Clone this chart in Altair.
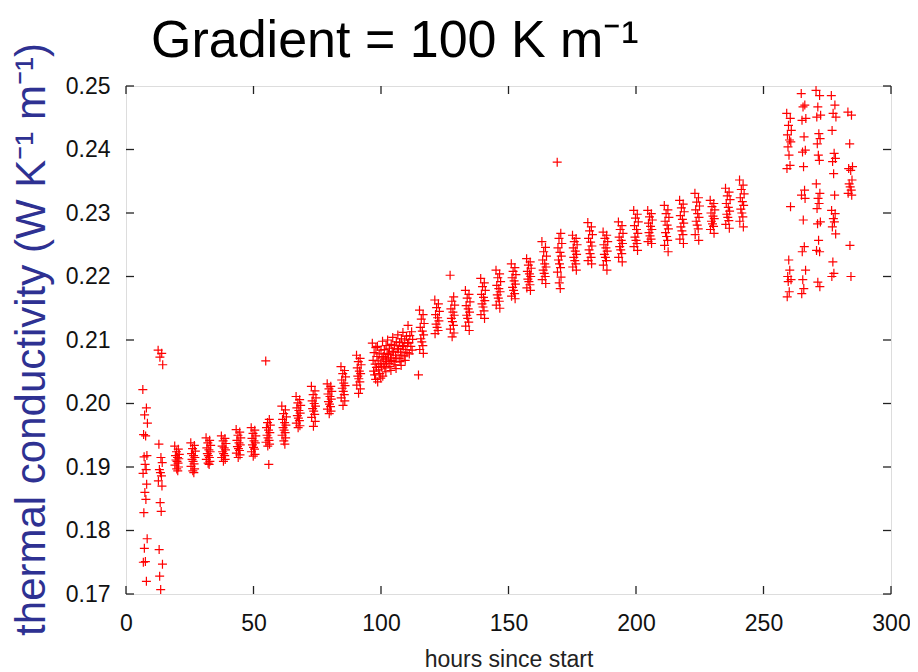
import altair as alt
import pandas as pd

# ---- data (hours since start, thermal conductivity) ----
# Each measurement session: (centre hour, list of conductivity values)
SESSIONS = [
    (7.5, [0.2022, 0.1993, 0.1982, 0.1969, 0.1951, 0.1949, 0.1918, 0.1916, 0.1904, 0.1896,
           0.1890, 0.1873, 0.1860, 0.1849, 0.1828, 0.1787, 0.1772, 0.1751, 0.1750, 0.1720]),
    (13.5, [0.2084, 0.2079, 0.2073, 0.2061, 0.1936, 0.1915, 0.1907, 0.1896, 0.1891, 0.1886,
            0.1878, 0.1870, 0.1844, 0.1830, 0.1770, 0.1747, 0.1728, 0.1707]),
    (20.0, [0.1933, 0.1928, 0.1924, 0.1920, 0.1918, 0.1915, 0.1913, 0.1911, 0.1909, 0.1906, 0.1903, 0.1900, 0.1897, 0.1894]),
    (26.3, [0.1938, 0.1934, 0.1929, 0.1925, 0.1921, 0.1918, 0.1915, 0.1912, 0.1909, 0.1905, 0.1901, 0.1897, 0.1894, 0.1891]),
    (32.3, [0.1946, 0.1942, 0.1938, 0.1934, 0.1930, 0.1927, 0.1924, 0.1921, 0.1918, 0.1915, 0.1912, 0.1909, 0.1906, 0.1904]),
    (38.3, [0.1949, 0.1945, 0.1941, 0.1937, 0.1933, 0.1930, 0.1927, 0.1924, 0.1921, 0.1918, 0.1915, 0.1912, 0.1909]),
    (44.1, [0.1959, 0.1955, 0.1950, 0.1946, 0.1942, 0.1938, 0.1935, 0.1932, 0.1929, 0.1926, 0.1922, 0.1919, 0.1915]),
    (50.0, [0.1962, 0.1958, 0.1953, 0.1949, 0.1945, 0.1941, 0.1938, 0.1935, 0.1931, 0.1928, 0.1924, 0.1920, 0.1917]),
    (55.7, [0.2067, 0.1975, 0.1970, 0.1966, 0.1962, 0.1958, 0.1954, 0.1950, 0.1946, 0.1942, 0.1939, 0.1936, 0.1933, 0.1904]),
    (62.0, [0.1996, 0.1990, 0.1984, 0.1979, 0.1975, 0.1970, 0.1966, 0.1962, 0.1958, 0.1954, 0.1950, 0.1946, 0.1941, 0.1936]),
    (67.6, [0.2011, 0.2006, 0.2001, 0.1997, 0.1993, 0.1989, 0.1985, 0.1981, 0.1977, 0.1973, 0.1969, 0.1965, 0.1962]),
    (73.6, [0.2027, 0.2020, 0.2014, 0.2009, 0.2004, 0.2000, 0.1996, 0.1992, 0.1988, 0.1983, 0.1978, 0.1972, 0.1964]),
    (79.8, [0.2031, 0.2027, 0.2023, 0.2019, 0.2015, 0.2011, 0.2007, 0.2003, 0.1999, 0.1995, 0.1991, 0.1988, 0.1984]),
    (85.2, [0.2058, 0.2052, 0.2047, 0.2042, 0.2037, 0.2032, 0.2028, 0.2024, 0.2019, 0.2014, 0.2009, 0.2004, 0.1997]),
    (91.3, [0.2076, 0.2071, 0.2066, 0.2061, 0.2056, 0.2051, 0.2047, 0.2043, 0.2039, 0.2034, 0.2029, 0.2023, 0.2016]),
    (97.5, [0.2095, 0.2088, 0.2080, 0.2074, 0.2068, 0.2062, 0.2057, 0.2051, 0.2045, 0.2038]),
    (99.5, [0.2090, 0.2084, 0.2078, 0.2072, 0.2067, 0.2063, 0.2058, 0.2053, 0.2047, 0.2040, 0.2034]),
    (101.5, [0.2098, 0.2091, 0.2085, 0.2079, 0.2074, 0.2070, 0.2066, 0.2061, 0.2056, 0.2050, 0.2043]),
    (103.5, [0.2100, 0.2093, 0.2087, 0.2082, 0.2077, 0.2072, 0.2068, 0.2063, 0.2058, 0.2052]),
    (105.5, [0.2104, 0.2097, 0.2091, 0.2086, 0.2081, 0.2076, 0.2071, 0.2066, 0.2061, 0.2055]),
    (107.5, [0.2108, 0.2102, 0.2096, 0.2091, 0.2086, 0.2081, 0.2076, 0.2071, 0.2066, 0.2060]),
    (109.5, [0.2112, 0.2106, 0.2100, 0.2095, 0.2090, 0.2085, 0.2080, 0.2075, 0.2068]),
    (111.5, [0.2123, 0.2113, 0.2107, 0.2101, 0.2096, 0.2090, 0.2084, 0.2078]),
    (116.0, [0.2147, 0.2140, 0.2133, 0.2126, 0.2120, 0.2114, 0.2108, 0.2102, 0.2097, 0.2091, 0.2085, 0.2079]),
    (122.0, [0.2163, 0.2157, 0.2151, 0.2145, 0.2140, 0.2135, 0.2130, 0.2125, 0.2120, 0.2115, 0.2110]),
    (128.0, [0.2202, 0.2168, 0.2161, 0.2155, 0.2149, 0.2144, 0.2139, 0.2134, 0.2129, 0.2123, 0.2117, 0.2111, 0.2105]),
    (134.0, [0.2178, 0.2172, 0.2166, 0.2160, 0.2154, 0.2149, 0.2144, 0.2139, 0.2134, 0.2128, 0.2122, 0.2115]),
    (140.0, [0.2197, 0.2190, 0.2184, 0.2178, 0.2172, 0.2167, 0.2162, 0.2157, 0.2152, 0.2146, 0.2140, 0.2134]),
    (146.0, [0.2210, 0.2204, 0.2198, 0.2192, 0.2186, 0.2181, 0.2176, 0.2171, 0.2166, 0.2161, 0.2155, 0.2150]),
    (152.0, [0.2220, 0.2214, 0.2208, 0.2203, 0.2198, 0.2193, 0.2188, 0.2183, 0.2178, 0.2173, 0.2169, 0.2165]),
    (158.0, [0.2228, 0.2223, 0.2218, 0.2213, 0.2208, 0.2204, 0.2200, 0.2196, 0.2192, 0.2187, 0.2182, 0.2178]),
    (164.0, [0.2255, 0.2246, 0.2239, 0.2232, 0.2226, 0.2220, 0.2215, 0.2210, 0.2205, 0.2200, 0.2195, 0.2189]),
    (170.0, [0.2380, 0.2268, 0.2260, 0.2252, 0.2245, 0.2238, 0.2232, 0.2226, 0.2220, 0.2214, 0.2207, 0.2199, 0.2190, 0.2181]),
    (176.0, [0.2265, 0.2260, 0.2255, 0.2250, 0.2245, 0.2240, 0.2235, 0.2230, 0.2225, 0.2220, 0.2215, 0.2210]),
    (182.0, [0.2285, 0.2278, 0.2272, 0.2266, 0.2260, 0.2254, 0.2248, 0.2242, 0.2236, 0.2230, 0.2225, 0.2220]),
    (188.0, [0.2270, 0.2265, 0.2260, 0.2255, 0.2250, 0.2245, 0.2240, 0.2235, 0.2230, 0.2225, 0.2218, 0.2210]),
    (194.0, [0.2286, 0.2280, 0.2274, 0.2268, 0.2262, 0.2257, 0.2252, 0.2247, 0.2242, 0.2236, 0.2230, 0.2223]),
    (200.0, [0.2304, 0.2298, 0.2292, 0.2286, 0.2280, 0.2274, 0.2268, 0.2262, 0.2257, 0.2252, 0.2247, 0.2241]),
    (205.5, [0.2304, 0.2299, 0.2294, 0.2289, 0.2284, 0.2279, 0.2274, 0.2269, 0.2264, 0.2259, 0.2255, 0.2252]),
    (212.0, [0.2312, 0.2305, 0.2299, 0.2293, 0.2287, 0.2281, 0.2275, 0.2269, 0.2263, 0.2257, 0.2249, 0.2239]),
    (218.0, [0.2320, 0.2314, 0.2308, 0.2302, 0.2296, 0.2290, 0.2284, 0.2278, 0.2272, 0.2266, 0.2259, 0.2252]),
    (224.0, [0.2331, 0.2324, 0.2317, 0.2311, 0.2305, 0.2299, 0.2293, 0.2287, 0.2281, 0.2275, 0.2266, 0.2257]),
    (230.0, [0.2320, 0.2315, 0.2310, 0.2305, 0.2300, 0.2295, 0.2291, 0.2287, 0.2283, 0.2279, 0.2274, 0.2268]),
    (236.0, [0.2339, 0.2333, 0.2327, 0.2321, 0.2315, 0.2309, 0.2303, 0.2298, 0.2293, 0.2288, 0.2282, 0.2276]),
    (241.5, [0.2352, 0.2344, 0.2337, 0.2330, 0.2324, 0.2318, 0.2312, 0.2306, 0.2300, 0.2294, 0.2287, 0.2278]),
    (260.0, [0.2457, 0.2449, 0.2438, 0.2430, 0.2423, 0.2415, 0.2412, 0.2404, 0.2391, 0.2375, 0.2370, 0.2310,
             0.2226, 0.2210, 0.2200, 0.2195, 0.2192, 0.2176, 0.2168]),
    (265.7, [0.2488, 0.2470, 0.2467, 0.2449, 0.2446, 0.2420, 0.2399, 0.2396, 0.2373, 0.2336, 0.2328, 0.2323,
             0.2289, 0.2247, 0.2239, 0.2210, 0.2195, 0.2181, 0.2173]),
    (271.5, [0.2493, 0.2485, 0.2467, 0.2454, 0.2451, 0.2425, 0.2417, 0.2409, 0.2391, 0.2383, 0.2346, 0.2331,
             0.2323, 0.2315, 0.2307, 0.2286, 0.2283, 0.2257, 0.2241, 0.2239, 0.2191, 0.2184]),
    (277.5, [0.2485, 0.2470, 0.2457, 0.2451, 0.2430, 0.2394, 0.2386, 0.2381, 0.2362, 0.2328, 0.2304, 0.2299,
             0.2291, 0.2286, 0.2278, 0.2267, 0.2223, 0.2205, 0.2200]),
    (284.0, [0.2459, 0.2454, 0.2409, 0.2373, 0.2370, 0.2367, 0.2352, 0.2346, 0.2341, 0.2336, 0.2331, 0.2328,
             0.2249, 0.2200]),
]
# time of each reading relative to the session centre (hours)
OFFSETS = [-0.9, 0.5, -0.2, 0.9, -0.6, 0.2, 0.7, -0.4, 0.0, 0.4,
           -0.8, 0.6, -0.1, 0.3, -0.5, 0.8, -0.3, 0.1, -0.7, 0.5, -0.2, 0.6]
EXTRA_HOURS = [114.7]
EXTRA_VALUES = [0.2045]

X_TICKS = [0, 50, 100, 150, 200, 250, 300]
Y_TICKS = [0.17, 0.18, 0.19, 0.20, 0.21, 0.22, 0.23, 0.24, 0.25]
TITLE = "Gradient = 100 K m\u207b\u00b9"

rows = []
for centre, vals in SESSIONS:
    for i, v in enumerate(vals):
        rows.append({"hours": centre + OFFSETS[i % len(OFFSETS)], "k": v})
for h, v in zip(EXTRA_HOURS, EXTRA_VALUES):
    rows.append({"hours": h, "k": v})
df = pd.DataFrame(rows)

W, H = 765, 508
FONT = "Liberation Sans"

xscale = alt.Scale(domain=[0, 300], nice=False, zero=False)
yscale = alt.Scale(domain=[0.17, 0.25], nice=False, zero=False)

x_axis = alt.Axis(values=X_TICKS, title="hours since start", format="d",
                  labelFontSize=23, labelFont=FONT, labelColor="#111", labelFlush=False,
                  titleFontSize=23, titleFont=FONT, titleFontWeight="normal",
                  titleColor="#222", titlePadding=13,
                  ticks=False, tickSize=0, domain=False, grid=False,
                  labelPadding=18)
y_axis = alt.Axis(values=Y_TICKS, format=".2f",
                  title="thermal conductivity (W K\u207b\u00b9 m\u207b\u00b9)",
                  labelFontSize=23, labelFont=FONT, labelColor="#111", labelFlush=False,
                  titleFontSize=42, titleFont=FONT, titleFontWeight="normal",
                  titleColor="#2e3192", titleX=-82, titleY=253,
                  titleAngle=270, titleAlign="center", titleBaseline="alphabetic",
                  ticks=False, tickSize=0, domain=False, grid=False,
                  labelPadding=16)

points = alt.Chart(df).mark_point(
    shape="M-1,0L1,0M0,-1L0,1", size=81, filled=False,
    color="#ff0000", stroke="#ff0000", strokeWidth=1.2, opacity=1,
).encode(
    x=alt.X("hours:Q", scale=xscale, axis=x_axis),
    y=alt.Y("k:Q", scale=yscale, axis=y_axis),
)

xt = pd.DataFrame({"hours": X_TICKS})
yt = pd.DataFrame({"k": Y_TICKS})
tick_style = dict(color="#222", strokeWidth=1.3)

x_ticks_bottom = alt.Chart(xt).mark_rule(**tick_style).encode(
    x=alt.X("hours:Q", scale=xscale, axis=x_axis), y=alt.value(H), y2=alt.value(H - 8))
x_ticks_top = alt.Chart(xt).mark_rule(**tick_style).encode(
    x=alt.X("hours:Q", scale=xscale, axis=x_axis), y=alt.value(0), y2=alt.value(8))
y_ticks_left = alt.Chart(yt).mark_rule(**tick_style).encode(
    y=alt.Y("k:Q", scale=yscale, axis=y_axis), x=alt.value(0), x2=alt.value(8))
y_ticks_right = alt.Chart(yt).mark_rule(**tick_style).encode(
    y=alt.Y("k:Q", scale=yscale, axis=y_axis), x=alt.value(W), x2=alt.value(W - 8))

title_text = alt.Chart(pd.DataFrame({"label": [TITLE]})).mark_text(
    align="left", baseline="alphabetic", fontSize=52, font=FONT, color="#000",
).encode(text="label:N", x=alt.value(25), y=alt.value(-29))

chart = alt.layer(points, x_ticks_bottom, x_ticks_top, y_ticks_left, y_ticks_right,
                  title_text).properties(
    width=W, height=H,
    padding={"left": 118, "top": 78, "right": 19, "bottom": 78},
    autosize=alt.AutoSizeParams(type="none"),
).configure_view(stroke="#222", strokeWidth=1.5).configure(background="white")

chart.save("out.html", embed_options={"renderer": "svg", "actions": False})
